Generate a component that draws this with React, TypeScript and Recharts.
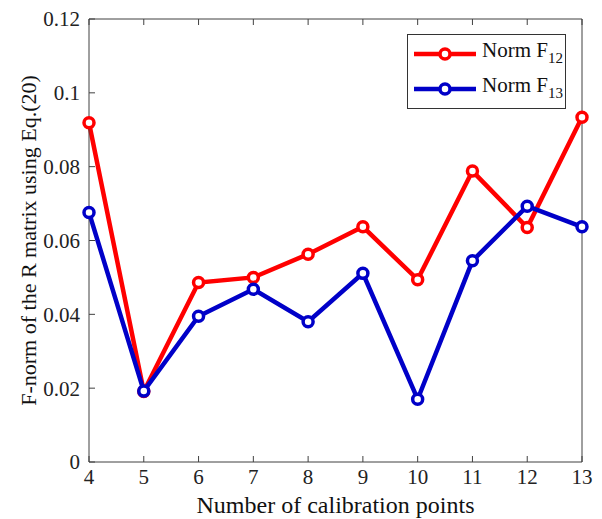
import { LineChart, Line, XAxis, YAxis } from "recharts"

const points = [4, 5, 6, 7, 8, 9, 10, 11, 12, 13]
const normF12 = [0.0919, 0.0191, 0.0486, 0.05, 0.0563, 0.0637, 0.0494, 0.0788, 0.0635, 0.0934]
const normF13 = [0.0676, 0.0192, 0.0395, 0.0468, 0.038, 0.0511, 0.017, 0.0545, 0.0693, 0.0637]
const yTicks = [0, 0.02, 0.04, 0.06, 0.08, 0.1, 0.12]

const data = points.map((p, i) => ({ p, f12: normF12[i], f13: normF13[i] }))

const RED = "#ff0000"
const BLUE = "#0000c8"
const AXIS = "#404040"
const FONT = "'Liberation Serif', 'Times New Roman', serif"

function LegendRow({ color, sub }: { color: string; sub: string }) {
  return (
    <div style={{ display: "flex", alignItems: "center", height: 35, whiteSpace: "nowrap" }}>
      <svg width={66} height={20} style={{ marginLeft: 5, flexShrink: 0 }}>
        <line x1={1} y1={10} x2={63} y2={10} stroke={color} strokeWidth={4.5} />
        <circle cx={32} cy={10} r={5} fill="#fff" stroke={color} strokeWidth={3.5} />
      </svg>
      <span style={{ fontFamily: FONT, fontSize: 21, color: "#111", marginLeft: 3, lineHeight: "24px" }}>
        Norm F<sub style={{ fontSize: 15, verticalAlign: -6 }}>{sub}</sub>
      </span>
    </div>
  )
}

export default function App() {
  return (
    <div style={{ position: "absolute", left: 0, top: 0, width: 602, height: 519, background: "#fff" }}>
      <LineChart width={602} height={519} data={data} margin={{ top: 0, right: 0, left: 0, bottom: 0 }}>
        <XAxis
          dataKey="p"
          type="number"
          domain={[4, 13]}
          ticks={points}
          height={57}
          stroke={AXIS}
          tickSize={-6}
          tickMargin={13}
          tick={{ fill: "#222", fontSize: 21, fontFamily: FONT }}
          label={{
            value: "Number of calibration points",
            position: "insideBottom",
            offset: 6,
            style: { fill: "#111", fontSize: 24, fontFamily: FONT },
          }}
        />
        <XAxis
          xAxisId="top"
          orientation="top"
          dataKey="p"
          type="number"
          domain={[4, 13]}
          ticks={points}
          height={19}
          stroke={AXIS}
          tickSize={-6}
          tickFormatter={() => ""}
        />
        <YAxis
          domain={[0, 0.12]}
          ticks={yTicks}
          width={89}
          stroke={AXIS}
          tickSize={-6}
          tickMargin={15}
          tickFormatter={(v: number) => String(v)}
          tick={{ fill: "#222", fontSize: 21, fontFamily: FONT }}
          label={{
            value: "F-norm of the R matrix using Eq.(20)",
            angle: -90,
            position: "insideLeft",
            offset: 28,
            style: { textAnchor: "middle", fill: "#111", fontSize: 22, fontFamily: FONT },
          }}
        />
        <YAxis
          yAxisId="right"
          orientation="right"
          domain={[0, 0.12]}
          ticks={yTicks}
          width={20}
          stroke={AXIS}
          tickSize={-6}
          tickFormatter={() => ""}
        />
        <Line
          type="linear"
          dataKey="f12"
          stroke={RED}
          strokeWidth={4.5}
          dot={{ r: 5, strokeWidth: 3.5, fill: "#fff", stroke: RED }}
          isAnimationActive={false}
        />
        <Line
          type="linear"
          dataKey="f13"
          stroke={BLUE}
          strokeWidth={4.5}
          dot={{ r: 5, strokeWidth: 3.5, fill: "#fff", stroke: BLUE }}
          isAnimationActive={false}
        />
      </LineChart>
      <div
        style={{
          position: "absolute",
          left: 407,
          top: 34,
          width: 157,
          height: 72,
          border: "1px solid #333",
          background: "#fff",
          paddingTop: 1,
        }}
      >
        <LegendRow color={RED} sub="12" />
        <LegendRow color={BLUE} sub="13" />
      </div>
    </div>
  )
}
